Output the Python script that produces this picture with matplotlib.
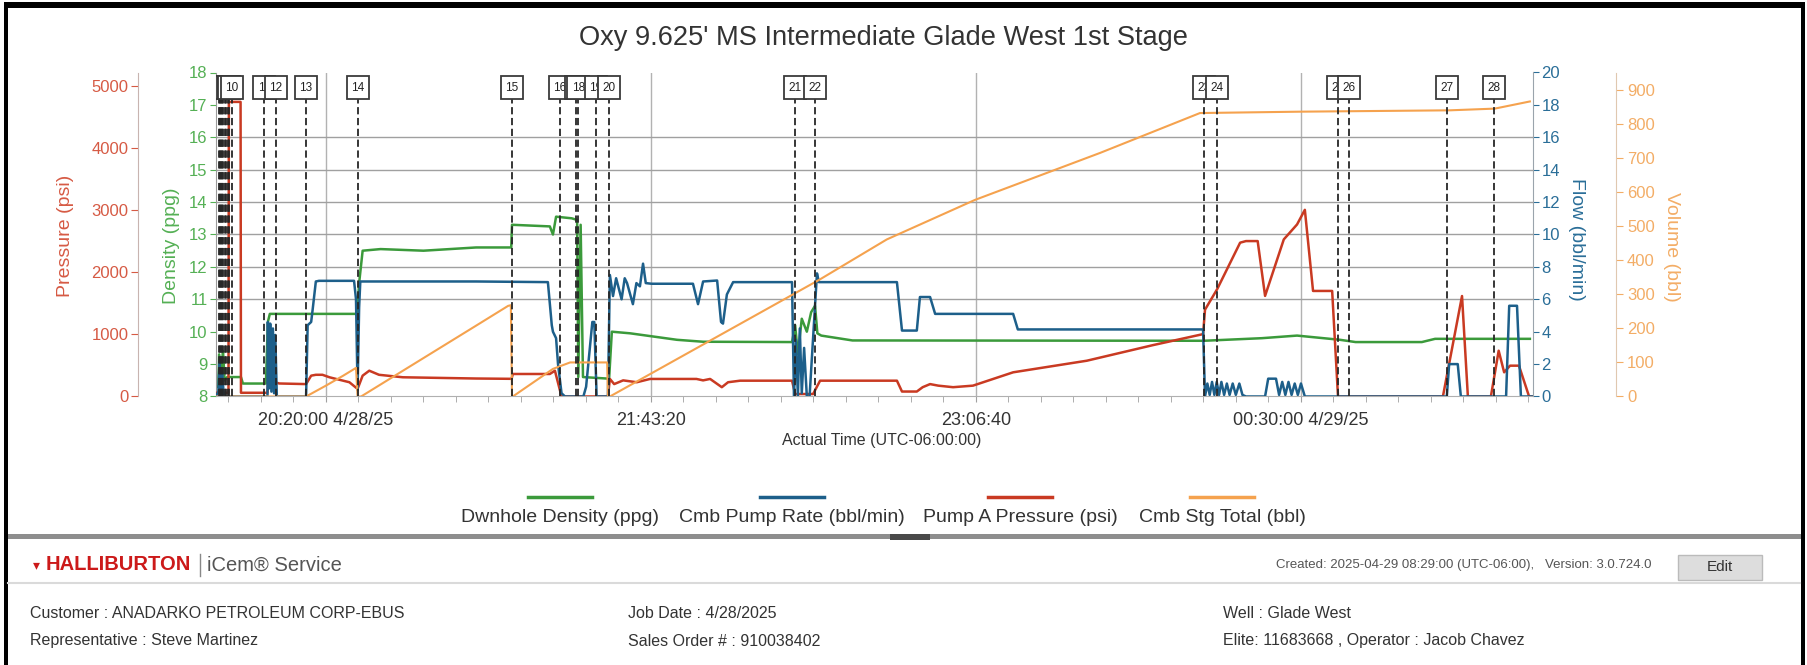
import numpy as np
import matplotlib.pyplot as plt
import matplotlib.transforms as mtransforms
from matplotlib.lines import Line2D
from matplotlib.patches import Rectangle

plt.rcParams['font.family'] = ['Liberation Sans', 'DejaVu Sans']

# ----------------------------------------------------------------------
#   job data, time in minutes after 20:20:00 4/28/25
# ----------------------------------------------------------------------

dens_t = [-28.2, -27.6, -27.4, -26.8, -26.4, -26.0, -25.3, -21.8, -21.3, -15.4, -14.9, -14.4,
          8.0, 8.5, 9.4, 14.0, 25.0, 38.5, 47.5, 47.7, 57.4, 58.2, 59.0, 63.0, 64.4, 64.7,
          65.3, 65.9, 72.6, 73.3, 78.0, 90.0, 96.7, 119.5, 120.3, 121.0, 122.0, 123.3, 124.4,
          125.4, 126.0, 127.0, 135.0, 225.1, 240.0, 249.0, 260.0, 264.0, 281.0, 284.4, 308.7]
dens_v = [8.3, 8.3, 9.3, 8.9, 9.4, 8.5, 8.6, 8.6, 8.4, 8.4, 10.3, 10.55,
          10.55, 11.5, 12.5, 12.55, 12.5, 12.6, 12.6, 13.3, 13.25, 13.0, 13.55, 13.5, 13.45, 8.6,
          13.3, 8.6, 8.55, 10.0, 9.95, 9.75, 9.69, 9.68, 10.2, 9.3, 10.4, 10.0, 10.6,
          10.8, 9.95, 9.88, 9.73, 9.72, 9.8, 9.88, 9.75, 9.68, 9.68, 9.78, 9.78]

rate_t = [-28.2, -27.6, -27.3, -27.0, -26.6, -26.2,
          -15.0, -14.9, -14.6, -14.3, -14.0, -13.6, -13.3, -13.0, -12.6,
          -5.1, -4.7, -3.8, -3.4, -2.6, -1.8,
          7.2, 7.7, 8.1, 8.5, 8.8,
          38.5, 56.9, 57.9, 58.2, 59.0, 59.5, 60.4, 61.3,
          66.0, 66.7, 68.3, 68.8, 69.4,
          72.3, 72.8, 73.6, 74.4, 75.8, 76.6, 77.2, 78.7, 79.6, 80.5, 81.3, 82.0, 83.5,
          94.1, 95.4, 96.7, 100.3, 101.3, 101.8, 102.8, 104.4,
          119.5, 120.0, 120.5, 121.0, 121.5, 122.0, 122.6, 123.3, 124.0, 125.0, 125.9, 126.4,
          146.4, 147.7, 151.5, 152.3, 154.9, 156.2, 176.2, 177.4, 224.9,
          225.4, 226.0, 226.6, 227.2, 227.8, 228.4, 229.0, 229.6, 230.3, 231.0, 231.7, 232.5,
          233.3, 234.2, 235.0, 235.9,
          240.8, 241.6, 243.6, 244.4, 245.2, 246.0, 246.8, 247.6, 248.4, 249.2, 250.0, 251.0,
          287.4, 288.0, 290.2, 291.0,
          302.6, 303.4, 305.4, 306.4, 309.5]
rate_v = [0, 0.3, 2.2, 0.2, 1.5, 0,
          0, 4.6, 0.5, 4.5, 0.3, 4.2, 0.2, 3.8, 0,
          0, 4.4, 4.6, 5.4, 7.1, 7.14,
          7.14, 6.0, 0.4, 5.5, 7.1,
          7.1, 7.06, 4.4, 4.0, 3.6, 2.0, 0.2, 0,
          0, 0.6, 4.6, 4.6, 0,
          0, 7.5, 6.2, 7.3, 6.0, 7.3, 7.0, 5.7, 7.0, 6.8, 8.2, 7.0, 6.96,
          6.96, 5.7, 7.1, 7.16, 4.6, 4.5, 6.3, 7.06,
          7.06, 0, 3.5, 0, 4.2, 0.2, 3.0, 0, 0, 4.0, 7.6, 7.06,
          7.06, 4.07, 4.07, 6.14, 6.14, 5.1, 5.1, 4.14, 4.14,
          0, 0.8, 0.1, 0.9, 0.1, 0.9, 0.1, 0.9, 0.1, 0.8, 0.1, 0.8,
          0.1, 0.8, 0.1, 0,
          0, 1.1, 1.1, 0.1, 0.9, 0.1, 0.9, 0.1, 0.8, 0.1, 0.8, 0,
          0, 2.0, 2.0, 0,
          0, 5.6, 5.6, 0, 0]

press_t = [-28.2, -25.0, -24.9, -21.9, -21.8, -15.0, -14.8, -13.0, -12.0, -5.1, -3.8, -2.6,
           -0.9, 0.9, 2.6, 6.0, 8.1, 9.4, 11.1, 13.6, 19.7, 38.5, 47.6, 47.9, 57.4, 58.7,
           60.4, 72.3, 72.8, 73.9, 76.2, 79.7, 83.1, 95.0, 96.7, 98.5, 101.5, 103.1, 106.2,
           119.5, 120.3, 124.9, 126.7, 146.4, 147.7, 151.5, 153.0, 154.9, 157.0, 160.8, 165.9,
           176.2, 195.1, 212.1, 224.9, 225.4, 228.5, 234.4, 235.9, 238.9, 240.8, 245.6, 249.0,
           251.0, 253.1, 258.0, 259.5, 286.4, 291.3, 292.8, 298.7, 300.7, 302.1, 303.6, 305.9,
           308.5, 309.5]
press_v = [60, 60, 4750, 4750, 60, 60, 280, 230, 210, 200, 336, 350,
           350, 310, 283, 230, 122, 336, 416, 350, 310, 290, 285, 363, 363, 416,
           0, 0, 283, 200, 260, 230, 283, 283, 260, 283, 150, 230, 255,
           255, 40, 40, 255, 255, 80, 80, 150, 200, 175, 150, 175,
           390, 577, 829, 1006, 1400, 1729, 2480, 2506, 2506, 1622, 2533, 2774,
           3010, 1702, 1702, 0, 0, 1620, 0, 0, 738, 390, 497, 497,
           0, 0]

vol_t = [-28.2, -5.1, 0.0, 4.4, 7.7, 8.1, 9.0, 38.5, 46.7, 47.4, 47.7, 47.9, 58.2, 62.6,
         72.1, 72.3, 72.8, 101.0, 126.7, 143.8, 166.4, 198.5, 224.1, 249.7, 288.2, 299.7, 308.7]
vol_v = [0, 0, 32, 61, 84, 0, 0, 208, 266, 268, 0, 0, 81, 100,
         100, 0, 0, 180, 344, 461, 577, 715, 832, 836, 840, 845, 866]

event_t = [-27.5, -27.2, -26.9, -26.6, -26.3, -26.0, -25.6, -25.2, -24.8, -24.1,
           -15.9, -12.9, -5.1, 8.2, 47.7, 60.0, 64.2, 64.7, 69.2, 72.6,
           120.3, 125.4, 225.1, 228.5, 259.6, 262.3, 287.4, 299.4]
event_lbl = ['1', '2', '3', '4', '5', '6', '7', '8', '9', '10',
             '11', '12', '13', '14', '15', '16', '17', '18', '19', '20',
             '21', '22', '23', '24', '25', '26', '27', '28']

time_ticks = [0, 250 / 3, 500 / 3, 250]
time_labels = ['20:20:00 4/28/25', '21:43:20', '23:06:40', '00:30:00 4/29/25']

series_names = ['Dwnhole Density (ppg)', 'Cmb Pump Rate (bbl/min)',
                'Pump A Pressure (psi)', 'Cmb Stg Total (bbl)']

GREEN, BLUE, RED, ORANGE = '#3b9a3b', '#1d5f8a', '#c93a22', '#f5a24e'
GREEN_T, BLUE_T, RED_T, ORANGE_T = '#55b055', '#2a6e98', '#d65a44', '#f3ad66'

# ----------------------------------------------------------------------
#   figure / axes layout (pixel geometry of the original screenshot)
# ----------------------------------------------------------------------

W, H = 1807, 665
fig = plt.figure(figsize=(W / 100, H / 100), dpi=100)


def fx(x):
    return x / W


def fy(y):
    return 1 - y / H


ax = fig.add_axes([fx(216), fy(396.5), 1317 / W, 324 / H])
ax_p = ax.twinx()
ax_f = ax.twinx()
ax_v = ax.twinx()

ax.set_xlim(-28.2, 309.5)
ax.set_ylim(8, 18)
ax_p.set_ylim(0, 5224)
ax_f.set_ylim(0, 20)
ax_v.set_ylim(0, 951)

# grid
for t in time_ticks:
    ax.axvline(t, color='#b2b2b2', lw=1, zorder=0)
for d in range(11, 17):
    ax.axhline(d, color='#a0a0a0', lw=1, zorder=0)

ax.plot(dens_t, dens_v, color=GREEN, lw=1.8)
ax_p.plot(press_t, press_v, color=RED, lw=1.8)
ax_f.plot(rate_t, rate_v, color=BLUE, lw=1.8)
ax_v.plot(vol_t, vol_v, color=ORANGE, lw=1.5)

# spines
for a in (ax, ax_p, ax_f, ax_v):
    a.spines['top'].set_visible(False)
for a in (ax_p, ax_f, ax_v):
    a.spines['bottom'].set_visible(False)
ax.spines['right'].set_visible(False)
ax.spines['left'].set_color('#9a9a9a')
ax.spines['bottom'].set_color('#b0b0b0')

ax_p.yaxis.set_ticks_position('left')
ax_p.yaxis.set_label_position('left')
ax_p.spines['left'].set_position(('axes', -78 / 1317))
ax_p.spines['left'].set_visible(True)
ax_p.spines['left'].set_color('#c8b4b0')
ax_p.spines['right'].set_visible(False)

ax_f.spines['left'].set_visible(False)
ax_f.spines['right'].set_color('#9aa4ac')

ax_v.spines['left'].set_visible(False)
ax_v.spines['right'].set_position(('axes', 1 + 83 / 1317))
ax_v.spines['right'].set_color('#e0c8b0')

# ticks
ax.set_yticks(range(8, 19))
ax_p.set_yticks(range(0, 5001, 1000))
ax_f.set_yticks(range(0, 21, 2))
ax_v.set_yticks(range(0, 901, 100))

ax.tick_params(axis='y', colors=GREEN_T, labelsize=12, length=4, pad=2)
ax_p.tick_params(axis='y', colors=RED_T, labelsize=12, length=5, pad=2)
ax_f.tick_params(axis='y', colors=BLUE_T, labelsize=12, length=4, pad=2)
ax_v.tick_params(axis='y', colors=ORANGE_T, labelsize=12, length=5, pad=3)

ax.set_xticks(time_ticks)
ax.set_xticklabels(time_labels)
ax.set_xticks(np.arange(-3, 38) * 25 / 3, minor=True)
ax.tick_params(axis='x', which='both', colors='#a0a0a0', length=4, labelcolor='#333333',
               labelsize=13, pad=7)

ax.set_ylabel('Density (ppg)', color=GREEN_T, fontsize=14, va='center')
ax.yaxis.set_label_coords(-0.034, 0.466)
ax_p.set_ylabel('Pressure (psi)', color=RED_T, fontsize=14, va='center')
ax_p.yaxis.set_label_coords(-0.114, 0.495)
ax_f.set_ylabel('Flow (bbl/min)', color=BLUE_T, fontsize=14, va='center', rotation=270)
ax_f.yaxis.set_label_coords(1.033, 0.486)
ax_v.set_ylabel('Volume (bbl)', color=ORANGE_T, fontsize=14, va='center', rotation=270)
ax_v.yaxis.set_label_coords(1.105, 0.463)

# ----------------------------------------------------------------------
#   event markers: dashed line with numbered box on top
#   (boxes of events 1-9 sit under box 10, so their numbers never show)
# ----------------------------------------------------------------------

trans = mtransforms.blended_transform_factory(ax_v.transData, ax_v.transAxes)
box_w = 22 / 3.9
for i, (t, lbl) in enumerate(zip(event_t, event_lbl)):
    z = 5 + i * 0.01
    ax_v.plot([t, t], [0, 0.918], transform=trans, color='#262626', lw=1.3,
              ls=(0, (4, 2)), zorder=z)
    ax_v.add_patch(Rectangle((t - box_w / 2, 0.918), box_w, 0.071, transform=trans,
                             fc='white', ec='#3a3a3a', lw=1.3, zorder=z + 0.002))
    if i >= 9:
        ax_v.text(t, 0.953, lbl, transform=trans, ha='center', va='center', fontsize=8.5,
                  color='#222222', zorder=z + 0.004, clip_on=True)

# ----------------------------------------------------------------------
#   title, x label, legend
# ----------------------------------------------------------------------

fig.text(fx(883), fy(38), "Oxy 9.625' MS Intermediate Glade West 1st Stage",
         ha='center', va='center', fontsize=19.6, color='#333333')
fig.text(fx(882), fy(440), 'Actual Time (UTC-06:00:00)', ha='center', va='center',
         fontsize=11.5, color='#333333')

leg_x = [560, 792, 1020, 1222]
for xc, name, col in zip(leg_x, series_names, [GREEN, BLUE, RED, ORANGE]):
    fig.add_artist(Line2D([fx(xc - 32), fx(xc + 32)], [fy(497), fy(497)], color=col, lw=2.5))
    fig.text(fx(xc), fy(518), name, ha='center', va='center', fontsize=14, color='#333333')

# ----------------------------------------------------------------------
#   page frame and report footer
# ----------------------------------------------------------------------

fig.add_artist(Rectangle((fx(4), fy(8)), fx(1801), 6 / H, color='black', lw=0))
fig.add_artist(Rectangle((fx(4), 0), 3.5 / W, fy(2), color='black', lw=0))
fig.add_artist(Rectangle((fx(1801), 0), 3.5 / W, fy(2), color='black', lw=0))
fig.add_artist(Rectangle((fx(8), fy(539)), fx(1793), 5 / H, color='#8e8e8e', lw=0))
fig.add_artist(Rectangle((fx(890), fy(540)), fx(40), 6 / H, color='#4a4a4a', lw=0))
fig.add_artist(Line2D([fx(8), fx(1800)], [fy(583), fy(583)], color='#dadada', lw=1.5))

fig.text(fx(33), fy(565), '\u25be', ha='left', va='center', fontsize=10, color='#cc1a1a')
fig.text(fx(46), fy(565), 'HALLIBURTON', ha='left', va='center', fontsize=14.5,
         fontweight='bold', color='#cc1a1a')
fig.add_artist(Line2D([fx(200), fx(200)], [fy(554), fy(576)], color='#888888', lw=1))
fig.text(fx(207), fy(565), 'iCem\u00ae Service', ha='left', va='center', fontsize=14.5,
         color='#555555')
fig.text(fx(1652), fy(565), 'Created: 2025-04-29 08:29:00 (UTC-06:00),   Version: 3.0.724.0',
         ha='right', va='center', fontsize=9.5, color='#555555')
fig.add_artist(Rectangle((fx(1678), fy(580)), fx(84), 25 / H, fc='#dddddd', ec='#bbbbbb', lw=1))
fig.text(fx(1720), fy(567), 'Edit', ha='center', va='center', fontsize=11, color='#333333')

info = [(30, 614, 'Customer : ANADARKO PETROLEUM CORP-EBUS'),
        (30, 641, 'Representative : Steve Martinez'),
        (628, 614, 'Job Date : 4/28/2025'),
        (628, 641, 'Sales Order # : 910038402'),
        (1223, 614, 'Well : Glade West'),
        (1223, 641, 'Elite: 11683668 , Operator : Jacob Chavez')]
for x, y, s in info:
    fig.text(fx(x), fy(y), s, ha='left', va='center', fontsize=11.5, color='#333333')

fig.savefig('out.png', dpi=100)
